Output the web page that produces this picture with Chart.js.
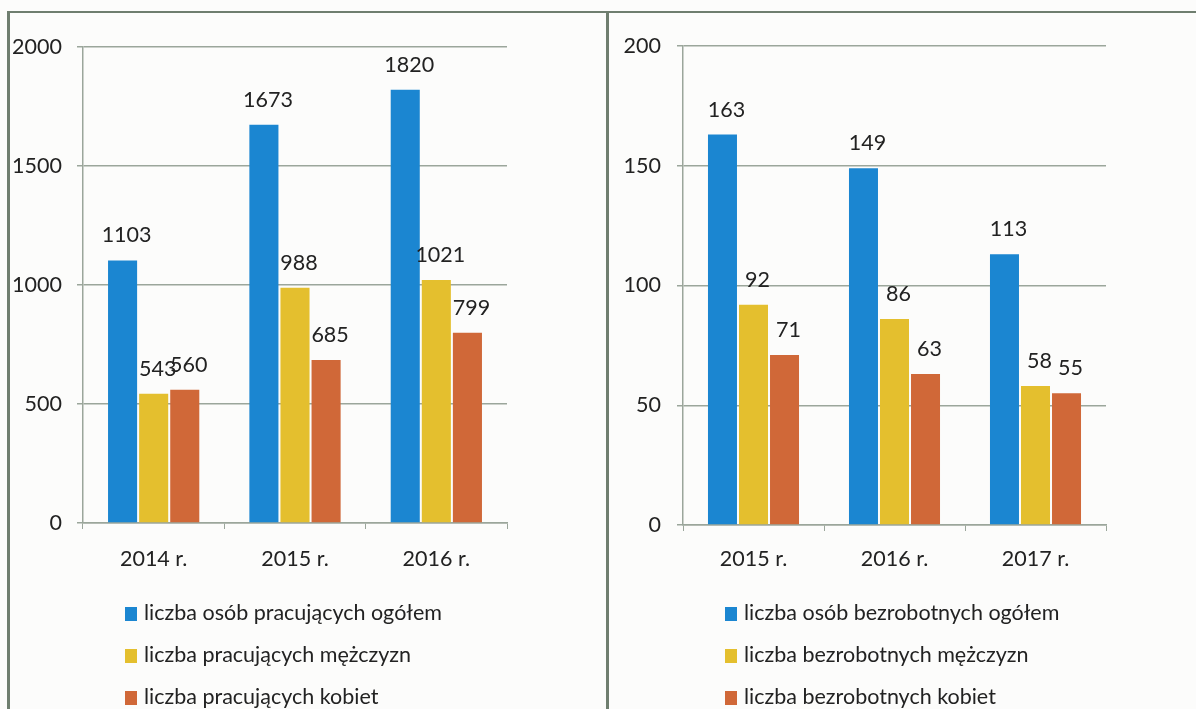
<!DOCTYPE html>
<html>
<head>
<meta charset="utf-8">
<script src="https://cdn.jsdelivr.net/npm/chart.js@4/dist/chart.umd.min.js"></script>
<style>
  body { margin: 0; background: #fcfcfb; width: 1196px; height: 709px; overflow: hidden; position: relative; font-family: Lato, "Open Sans", sans-serif; }
  canvas { position: absolute; top: 0; }
  .frame { position: absolute; background: #6f7e6f; z-index: 2; }
  .legend { position: absolute; top: 596px; font-size: 21.5px; color: #222; }
  .legend div { height: 42px; line-height: 32px; white-space: nowrap; }
  .legend span { display: inline-block; width: 12px; height: 14px; margin-right: 7px; vertical-align: -1px; }
</style>
</head>
<body>
<div class="frame" style="left:8px;top:11px;width:1188px;height:2px"></div>
<div class="frame" style="left:7px;top:11px;width:3px;height:698px"></div>
<div class="frame" style="left:606px;top:11px;width:3px;height:698px"></div>

<canvas id="chart-left" width="600" height="600" style="left:0"></canvas>
<canvas id="chart-right" width="596" height="600" style="left:600px"></canvas>

<div class="legend" id="legend-left" style="left:125px"></div>
<div class="legend" id="legend-right" style="left:725px"></div>

<script>
const leftCats = ['2014 r.', '2015 r.', '2016 r.'];
const leftTotal = [1103, 1673, 1820];
const leftMen = [543, 988, 1021];
const leftWomen = [560, 685, 799];
const leftNames = ['liczba osób pracujących ogółem', 'liczba pracujących mężczyzn', 'liczba pracujących kobiet'];

const rightCats = ['2015 r.', '2016 r.', '2017 r.'];
const rightTotal = [163, 149, 113];
const rightMen = [92, 86, 58];
const rightWomen = [71, 63, 55];
const rightNames = ['liczba osób bezrobotnych ogółem', 'liczba bezrobotnych mężczyzn', 'liczba bezrobotnych kobiet'];

const colors = ['#1b86d1', '#e4bf2e', '#d06838'];
const textColor = '#222';
const gridColor = '#9ba69b';
const font = { family: 'Lato, "Open Sans", sans-serif', size: 21.5 };

// value labels above the bars
const barValues = {
    id: 'barValues',
    afterDatasetsDraw(chart) {
        const ctx = chart.ctx;
        ctx.save();
        ctx.font = '21.5px ' + font.family;
        ctx.fillStyle = textColor;
        ctx.textAlign = 'center';
        ctx.textBaseline = 'middle';
        chart.data.datasets.forEach((ds, i) => {
            chart.getDatasetMeta(i).data.forEach((bar, j) => {
                ctx.fillText(ds.data[j], bar.x + 4, bar.y - 25);
            });
        });
        ctx.restore();
    }
};

function build(id, cats, series, names, max, step, area) {
    return new Chart(document.getElementById(id), {
        type: 'bar',
        data: {
            labels: cats,
            datasets: series.map((data, i) => ({
                label: names[i],
                data,
                backgroundColor: colors[i],
                categoryPercentage: 0.66,
                barPercentage: 0.935
            }))
        },
        options: {
            responsive: false,
            animation: false,
            layout: { padding: { left: 0, top: area.top, right: area.right, bottom: 0 } },
            plugins: { legend: { display: false }, tooltip: { enabled: false } },
            scales: {
                x: {
                    grid: { drawOnChartArea: false, color: gridColor, tickLength: 6 },
                    border: { color: gridColor, width: 1.5 },
                    ticks: { color: textColor, font, padding: area.xPad, maxRotation: 0 },
                    afterFit(s) { s.height = area.xHeight; }
                },
                y: {
                    min: 0, max,
                    grid: { color: gridColor, lineWidth: 1.5, tickLength: 6 },
                    border: { color: gridColor, width: 1.5 },
                    ticks: { stepSize: step, color: textColor, font, padding: area.yPad, callback: v => String(v) },
                    afterFit(s) { s.width = 83; }
                }
            }
        },
        plugins: [barValues]
    });
}

function legend(id, names) {
    const el = document.getElementById(id);
    names.forEach((n, i) => {
        const row = document.createElement('div');
        row.innerHTML = '<span style="background:' + colors[i] + '"></span>' + n;
        el.appendChild(row);
    });
}

build('chart-left', leftCats, [leftTotal, leftMen, leftWomen], leftNames, 2000, 500,
    { top: 47, right: 93, xHeight: 77, xPad: 17, yPad: 15 });
build('chart-right', rightCats, [rightTotal, rightMen, rightWomen], rightNames, 200, 50,
    { top: 46, right: 90, xHeight: 75, xPad: 15, yPad: 16 });
legend('legend-left', leftNames);
legend('legend-right', rightNames);
</script>
</body>
</html>
